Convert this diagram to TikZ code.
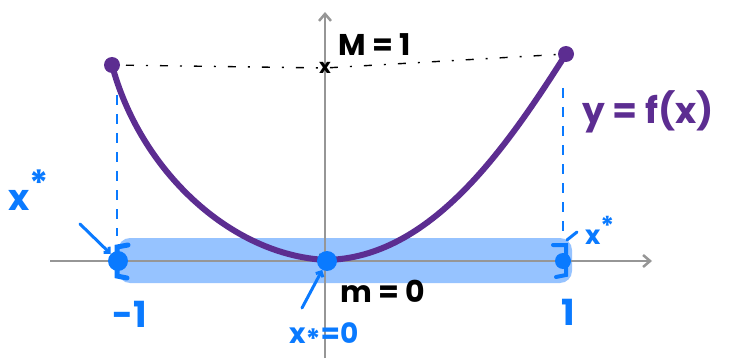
\documentclass[tikz,border=0pt]{standalone}
\usepackage{fontspec}
\setmainfont{Poppins}
\usetikzlibrary{arrows.meta}
\definecolor{fpurple}{RGB}{92,45,145}
\definecolor{fblue}{RGB}{10,122,255}
\definecolor{lblue}{RGB}{150,195,255}
\definecolor{axgray}{RGB}{150,150,150}
\tikzset{
  axis/.style={axgray, line width=2.5pt, -{Straight Barb[length=7pt,width=12pt,line width=2.5pt]}},
  curve/.style={fpurple, line width=6pt, line cap=round},
  dot/.style={circle, fill=#1, inner sep=0pt, minimum size=16pt},
  bluedash/.style={fblue, line width=1.6pt, dash pattern=on 10pt off 9pt},
  blk/.style={font=\fontsize{30}{30}\selectfont\bfseries, text=black, inner sep=0pt},
  bl/.style={font=\fontsize{36}{36}\selectfont\bfseries, text=fblue, inner sep=0pt},
  ptr/.style={fblue, line width=3pt, line cap=round, -{Straight Barb[length=4pt,width=8pt,line width=3pt]}}
}
\begin{document}
\begin{tikzpicture}[x=1pt,y=-1pt]
\useasboundingbox (0,0) rectangle (756,361);
% band
\fill[lblue, rounded corners=12pt] (118,238) rectangle (572,283);
% axes
\coordinate (xa0) at (50,261);
\coordinate (xa1) at (652,261);
\coordinate (ya0) at (325,358);
\coordinate (ya1) at (325,12);
\draw[axis] (xa0) -- (xa1);
\draw[axis] (ya0) -- (ya1);
% points
\coordinate (L) at (112,65);
\coordinate (R) at (566,54);
\coordinate (O) at (326,260);
% dotted max line
\draw[black, line width=1.4pt, dash pattern=on 2pt off 12pt on 8pt off 12pt] (L) -- (325,68) -- (R);
\node[blk, font=\fontsize{20}{20}\selectfont\bfseries] (mx) at (325,68) {x};
\node[blk, anchor=west] (M) at (338,45) {M = 1};
% blue dashed verticals
\coordinate (Lt) at (117,76);
\coordinate (Lb) at (117,236);
\coordinate (Rt) at (563,88);
\coordinate (Rb) at (563,236);
\draw[bluedash] (Lt) -- (Lb);
\draw[bluedash] (Rt) -- (Rb);
% curve
\draw[curve] (L) .. controls (140,170) and (230,255) .. (O) .. controls (430,258) and (505,150) .. (R);
\node[dot=fpurple] (dL) at (L) {};
\node[dot=fpurple] (dR) at (R) {};
% small black mark at min
\node[blk, font=\fontsize{20}{20}\selectfont\bfseries] (mn) at (325,260) {x};
% blue dots
\node[dot=fblue, minimum size=20pt] (bL) at (118,261) {};
\node[dot=fblue, minimum size=20pt] (bO) at (327,261) {};
\node[dot=fblue, minimum size=16pt] (bR) at (563,261) {};
% brackets
\draw[fblue, line width=5pt, line cap=round] (128,245) -- (117,247) -- (117,276) -- (127,278);
\draw[fblue, line width=4pt, line cap=round] (553,245) -- (566,245) -- (566,275) -- (556,277);
% labels
\node[bl] (m1) at (130,314) {-1};
\node[bl] (p1) at (568,312) {1};
\node[blk, anchor=west] (m0) at (340,291) {m = 0};
\node[bl, font=\fontsize{28}{28}\selectfont\bfseries, anchor=west] (xs) at (289,336) {x\raisebox{-6pt}{*}=0};
\draw[ptr] (302,308) -- (bO);
\node[bl, anchor=west] (xl) at (8,190) {x\raisebox{14pt}{*}};
\draw[ptr] (80,224) -- (bL);
\node[bl, font=\fontsize{26}{26}\selectfont\bfseries, anchor=west] (xr) at (585,230) {x\raisebox{9pt}{*}};
\draw[fblue, line width=3pt, line cap=round] (567,240) -- (577,232);
\node[font=\fontsize{36}{36}\selectfont\bfseries, text=fpurple, anchor=west, inner sep=0pt] (fx) at (582,112) {y = f(x)};
\end{tikzpicture}
\end{document}
